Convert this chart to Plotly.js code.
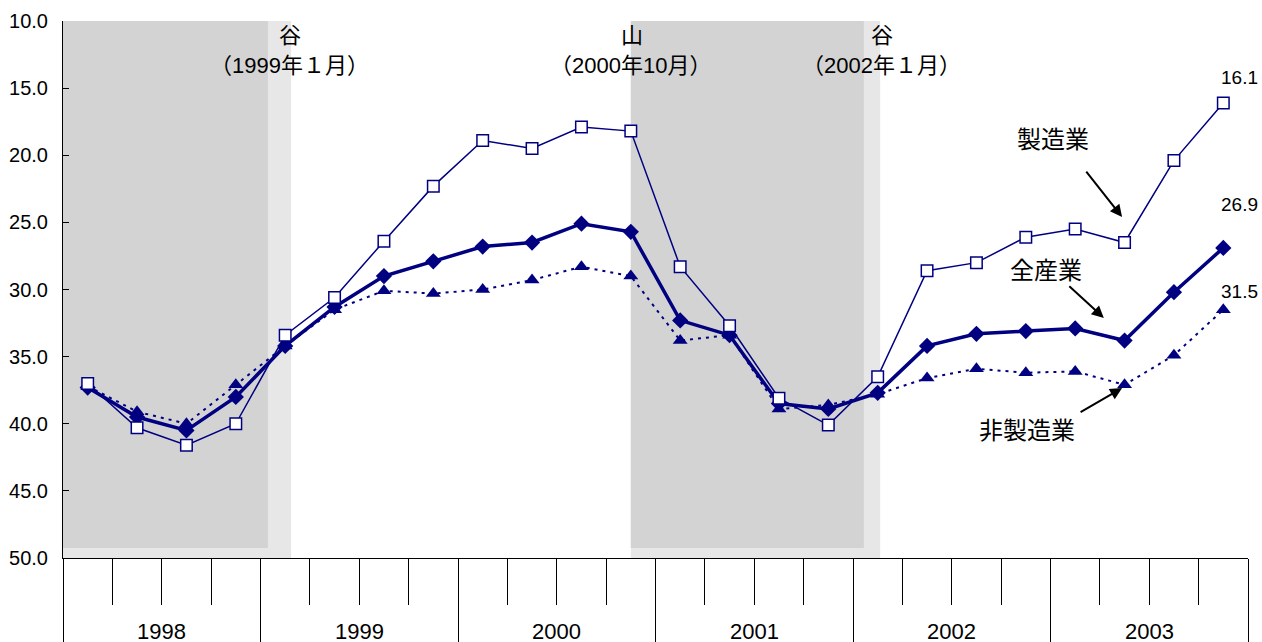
<!DOCTYPE html>
<html><head><meta charset="utf-8">
<script src="https://cdn.plot.ly/plotly-3.0.1.min.js"></script>
<style>html,body{margin:0;padding:0;background:#fff}#chart{width:1262px;height:642px}</style>
</head><body><div id="chart"></div>
<script>
// ---- data ----
const years = ['1998','1999','2000','2001','2002','2003'];
const quarters = ['1-3','4-6','7-9','10-12'];
const seriesNames = ['製造業','全産業','非製造業'];
const manufacturing = [37.0,40.3,41.6,40.0,33.4,30.6,26.4,22.3,18.9,19.5,17.9,18.2,28.3,32.7,38.1,40.1,36.5,28.6,28.0,26.1,25.5,26.5,20.4,16.1];
const allIndustries = [37.3,39.5,40.5,38.0,34.2,31.3,29.0,27.9,26.8,26.5,25.1,25.7,32.3,33.4,38.5,38.9,37.7,34.2,33.3,33.1,32.9,33.8,30.2,26.9];
const nonManufacturing = [37.2,39.1,40.0,37.1,34.2,31.5,30.1,30.3,30.0,29.3,28.3,29.0,33.8,33.4,38.9,38.6,37.8,36.6,35.9,36.2,36.1,37.1,34.9,31.5];
const turnLabels = ['谷','山','谷'];
const turnDates = ['（1999年１月）','（2000年10月）','（2002年１月）'];
const yTicks = [10,15,20,25,30,35,40,45,50];

// ---- layout helpers ----
const FONT = 'Liberation Sans, Arial, Noto Sans CJK JP, sans-serif';
const NAVY = '#000080';
const nQ = quarters.length;
const xs = [];
years.forEach((y,i)=>quarters.forEach((q,j)=>xs.push(i*nQ+j+0.5)));
const xMax = years.length*nQ;

const traces = [
  {x:xs, y:allIndustries, name:seriesNames[1], mode:'lines+markers', cliponaxis:false,
   line:{color:NAVY, width:3.5}, marker:{symbol:'diamond', size:12.5, color:NAVY}},
  {x:xs, y:nonManufacturing, name:seriesNames[2], mode:'lines+markers', cliponaxis:false,
   line:{color:NAVY, width:2, dash:'3px,5px'}, marker:{symbol:'triangle-up', size:13, color:NAVY}},
  {x:xs, y:manufacturing, name:seriesNames[0], mode:'lines+markers', cliponaxis:false,
   line:{color:NAVY, width:1.5}, marker:{symbol:'square', size:11.5, color:'#ffffff', line:{color:NAVY, width:1.5}}}
];

// recession shading (peak → trough), x in quarter units
const bands = [{s:0, e:4.15, f:4.62}, {s:11.5, e:16.22, f:16.55}];
const shapes = [];
bands.forEach(b=>{
  shapes.push({type:'rect', xref:'x', yref:'y', x0:b.s, x1:b.f, y0:10, y1:50, fillcolor:'#e7e7e7', line:{width:0}, layer:'below'});
  shapes.push({type:'rect', xref:'x', yref:'y', x0:b.s, x1:b.e, y0:10, y1:49.25, fillcolor:'#d3d3d3', line:{width:0}, layer:'below'});
});

const annotations = [];
// year labels
years.forEach((y,i)=>annotations.push({x:i*nQ+nQ/2, y:-0.136, xref:'x', yref:'paper', text:y, showarrow:false,
  yanchor:'middle', font:{family:FONT, size:22, color:'#000'}}));
// turning point labels
const turnX = [4.6, 11.52, 16.59];
turnX.forEach((x,i)=>{
  annotations.push({x:x, y:11.05, xref:'x', yref:'y', text:turnLabels[i], showarrow:false, yanchor:'middle',
    font:{family:FONT, size:22, color:'#000'}});
  annotations.push({x:x-0.02, y:13.3, xref:'x', yref:'y', text:turnDates[i], showarrow:false, yanchor:'middle',
    font:{family:FONT, size:22, color:'#000'}});
});
// last values
const last = xs.length-1;
[[manufacturing,25],[allIndustries,43],[nonManufacturing,18]].forEach(([s,ys])=>{
  annotations.push({x:xs[last], y:s[last], xref:'x', yref:'y', text:s[last].toFixed(1), showarrow:false,
    xshift:16, yshift:ys, font:{family:FONT, size:19, color:'#000'}});
});
// series labels with arrows
const seriesLabelPos = [[20.05,18.86],[19.91,28.55],[19.52,40.47]];
seriesLabelPos.forEach((p,i)=>annotations.push({x:p[0], y:p[1], xref:'x', yref:'y', text:seriesNames[i], showarrow:false,
  yanchor:'middle', font:{family:FONT, size:24, color:'#000'}}));
const arrows = [[21.45,24.6,-37,-47],[21.08,32.12,-36,-33],[21.45,37.34,-43,25]];
arrows.forEach(a=>annotations.push({x:a[0], y:a[1], xref:'x', yref:'y', text:'', showarrow:true, ax:a[2], ay:a[3],
  axref:'pixel', ayref:'pixel', arrowhead:2, arrowsize:1.2, arrowwidth:2, arrowcolor:'#000', standoff:0}));

const layout = {
  width:1262, height:642,
  margin:{l:63, r:14, t:21, b:84, pad:0},
  paper_bgcolor:'#fff', plot_bgcolor:'rgba(0,0,0,0)',
  showlegend:false,
  font:{family:FONT, color:'#000'},
  xaxis:{range:[0,xMax], showgrid:false, zeroline:false, showline:true, linecolor:'#000', linewidth:1,
    tickmode:'array', tickvals:years.map((y,i)=>i*nQ).concat([xMax]), ticks:'outside', ticklen:90, tickwidth:1, tickcolor:'#000',
    showticklabels:false,
    minor:{ticks:'outside', tickmode:'linear', tick0:0, dtick:1, ticklen:46, tickwidth:1, tickcolor:'#000', showgrid:false}},
  yaxis:{range:[50,10], showgrid:false, zeroline:false, showline:true, linecolor:'#000', linewidth:1,
    tickmode:'array', tickvals:yTicks, ticktext:yTicks.map(v=>v.toFixed(1)), ticks:'inside', ticklen:6, tickcolor:'#000',
    ticklabelstandoff:10, tickfont:{family:FONT, size:20, color:'#000'}},
  shapes:shapes,
  annotations:annotations
};
Plotly.newPlot('chart', traces, layout, {displayModeBar:false, staticPlot:true});
</script>
</body></html>
